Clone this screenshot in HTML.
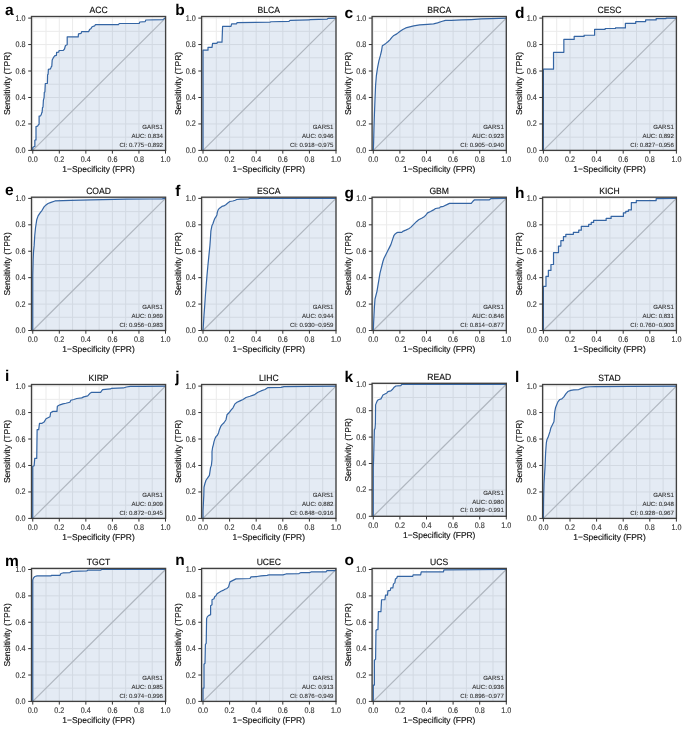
<!DOCTYPE html>
<html><head><meta charset="utf-8"><title>ROC curves</title>
<style>
html,body{margin:0;padding:0;background:#fff;}
svg{display:block;}
text{font-family:'Liberation Sans', Arial, Helvetica, sans-serif;text-rendering:geometricPrecision;}
.tl{font-size:7.2px;fill:#333333;stroke:#333333;stroke-width:0.12px;}
.ax{font-size:8.45px;fill:#111;stroke:#111;stroke-width:0.15px;}
.ay{font-size:8.5px;fill:#111;stroke:#111;stroke-width:0.15px;}
.ti{font-size:8.6px;fill:#111;stroke:#111;stroke-width:0.15px;}
.lt{font-size:15.5px;font-weight:bold;fill:#000;}
.an{font-size:6.1px;fill:#333333;stroke:#333333;stroke-width:0.1px;}
</style></head>
<body>
<svg width="685" height="729" viewBox="0 0 685 729">
<rect width="685" height="729" fill="#fff"/>
<g><rect x="31.5" y="16.5" width="134.1" height="133.9" fill="#fff"/><path d="M32.75 16.5V150.4M31.5 150.4H165.6M46.02 16.5V150.4M31.5 137.17H165.6M59.3 16.5V150.4M31.5 123.94H165.6M72.57 16.5V150.4M31.5 110.71H165.6M85.85 16.5V150.4M31.5 97.48H165.6M99.12 16.5V150.4M31.5 84.25H165.6M112.4 16.5V150.4M31.5 71.02H165.6M125.67 16.5V150.4M31.5 57.79H165.6M138.95 16.5V150.4M31.5 44.56H165.6M152.23 16.5V150.4M31.5 31.33H165.6M165.5 16.5V150.4M31.5 18.1H165.6" stroke="#ebebeb" stroke-width="1" fill="none"/><line x1="32.75" y1="150.4" x2="165.5" y2="18.1" stroke="#c2c2c2" stroke-width="1.2"/><polygon points="32.75,150.4 32.75,149.1 32.75,147.5 34.3,146.5 34.85,146.5 34.85,140.2 35.6,139.9 36,139.9 36,126.5 37.7,126.1 38.4,124.7 39.1,124.3 39.1,116.1 40.6,115.8 41.4,114.3 41.7,112.7 42.1,112.4 42.5,107.6 43,107.3 43.4,100.2 44.1,97.7 44.3,92.3 44.9,92 45.3,83.5 47.4,83.3 47.6,74.7 48.1,74.3 48.4,69.3 50.4,68.9 50.9,67.8 51.4,66.6 51.8,66.3 52.2,60.1 52.7,59 53.3,57.8 54.1,56.7 54.5,55.9 56.4,55.4 56.6,52.4 58.7,52.1 59.1,50.5 63.3,50.3 64.5,49 64.9,47.5 65.5,45.5 67.2,44.8 67.2,36.85 78.2,36.85 78.5,33.9 81.1,33.4 81.6,31.7 88.6,31.7 89.6,29.4 91.1,28.4 92.1,26.7 94.6,25.9 95.5,24.7 118.4,24.7 119.3,23.5 139.2,23.5 139.8,22 145.2,21.6 145.8,20 163,19.6 164.4,18.4 165.4,18.1 165.5,150.4 32.75,150.4" fill="#4070b0" fill-opacity="0.14"/><polyline points="32.75,150.4 32.75,149.1 32.75,147.5 34.3,146.5 34.85,146.5 34.85,140.2 35.6,139.9 36,139.9 36,126.5 37.7,126.1 38.4,124.7 39.1,124.3 39.1,116.1 40.6,115.8 41.4,114.3 41.7,112.7 42.1,112.4 42.5,107.6 43,107.3 43.4,100.2 44.1,97.7 44.3,92.3 44.9,92 45.3,83.5 47.4,83.3 47.6,74.7 48.1,74.3 48.4,69.3 50.4,68.9 50.9,67.8 51.4,66.6 51.8,66.3 52.2,60.1 52.7,59 53.3,57.8 54.1,56.7 54.5,55.9 56.4,55.4 56.6,52.4 58.7,52.1 59.1,50.5 63.3,50.3 64.5,49 64.9,47.5 65.5,45.5 67.2,44.8 67.2,36.85 78.2,36.85 78.5,33.9 81.1,33.4 81.6,31.7 88.6,31.7 89.6,29.4 91.1,28.4 92.1,26.7 94.6,25.9 95.5,24.7 118.4,24.7 119.3,23.5 139.2,23.5 139.8,22 145.2,21.6 145.8,20 163,19.6 164.4,18.4 165.4,18.1" fill="none" stroke="#3465a4" stroke-width="1.2" stroke-linejoin="round"/><rect x="31.5" y="16.5" width="134.1" height="133.9" fill="none" stroke="#404040" stroke-width="1.35"/><path d="M28.2 150.4H31.5M32.75 150.4V153.6M28.2 123.94H31.5M59.3 150.4V153.6M28.2 97.48H31.5M85.85 150.4V153.6M28.2 71.02H31.5M112.4 150.4V153.6M28.2 44.56H31.5M138.95 150.4V153.6M28.2 18.1H31.5M165.5 150.4V153.6" stroke="#333333" stroke-width="1"/><text transform="matrix(1 0 0 1.15 25.6 152.95)" text-anchor="end" class="tl">0.0</text><text transform="matrix(1 0 0 1.15 32.75 161.7)" text-anchor="middle" class="tl">0.0</text><text transform="matrix(1 0 0 1.15 25.6 126.49)" text-anchor="end" class="tl">0.2</text><text transform="matrix(1 0 0 1.15 59.3 161.7)" text-anchor="middle" class="tl">0.2</text><text transform="matrix(1 0 0 1.15 25.6 100.03)" text-anchor="end" class="tl">0.4</text><text transform="matrix(1 0 0 1.15 85.85 161.7)" text-anchor="middle" class="tl">0.4</text><text transform="matrix(1 0 0 1.15 25.6 73.57)" text-anchor="end" class="tl">0.6</text><text transform="matrix(1 0 0 1.15 112.4 161.7)" text-anchor="middle" class="tl">0.6</text><text transform="matrix(1 0 0 1.15 25.6 47.11)" text-anchor="end" class="tl">0.8</text><text transform="matrix(1 0 0 1.15 138.95 161.7)" text-anchor="middle" class="tl">0.8</text><text transform="matrix(1 0 0 1.15 25.6 20.65)" text-anchor="end" class="tl">1.0</text><text transform="matrix(1 0 0 1.15 165.5 161.7)" text-anchor="middle" class="tl">1.0</text><text x="98.55" y="172.1" text-anchor="middle" class="ax">1−Specificity (FPR)</text><text transform="translate(10.4,83.45) rotate(-90)" text-anchor="middle" class="ay">Sensitivity (TPR)</text><text transform="matrix(1 0 0 1.06 98.55 13)" text-anchor="middle" class="ti">ACC</text><text x="5" y="15.1" class="lt">a</text><text x="163" y="128.7" text-anchor="end" class="an">GARS1</text><text x="163" y="137.7" text-anchor="end" class="an">AUC: 0.834</text><text x="163" y="146.5" text-anchor="end" class="an">CI: 0.775−0.892</text></g>
<g><rect x="201.6" y="16.5" width="134.4" height="133.9" fill="#fff"/><path d="M203 16.5V150.4M201.6 150.4H336M216.3 16.5V150.4M201.6 137.17H336M229.6 16.5V150.4M201.6 123.94H336M242.9 16.5V150.4M201.6 110.71H336M256.2 16.5V150.4M201.6 97.48H336M269.5 16.5V150.4M201.6 84.25H336M282.8 16.5V150.4M201.6 71.02H336M296.1 16.5V150.4M201.6 57.79H336M309.4 16.5V150.4M201.6 44.56H336M322.7 16.5V150.4M201.6 31.33H336M336 16.5V150.4M201.6 18.1H336" stroke="#ebebeb" stroke-width="1" fill="none"/><line x1="203" y1="150.4" x2="336" y2="18.1" stroke="#c2c2c2" stroke-width="1.2"/><polygon points="203,150.4 203,50.14 208,50.14 208,47.36 212,47.36 212.6,43.39 217,43.39 217.4,42.2 222,42.2 222.6,26.32 231,26.32 231.6,23.94 236.6,23.94 237,22.55 270,22.15 271,21.75 289,21.36 290,20.36 309,19.97 310,19.57 327,19.17 328,18.38 336,18.1 336,150.4 203,150.4" fill="#4070b0" fill-opacity="0.14"/><polyline points="203,150.4 203,50.14 208,50.14 208,47.36 212,47.36 212.6,43.39 217,43.39 217.4,42.2 222,42.2 222.6,26.32 231,26.32 231.6,23.94 236.6,23.94 237,22.55 270,22.15 271,21.75 289,21.36 290,20.36 309,19.97 310,19.57 327,19.17 328,18.38 336,18.1" fill="none" stroke="#3465a4" stroke-width="1.2" stroke-linejoin="round"/><rect x="201.6" y="16.5" width="134.4" height="133.9" fill="none" stroke="#404040" stroke-width="1.35"/><path d="M198.3 150.4H201.6M203 150.4V153.6M198.3 123.94H201.6M229.6 150.4V153.6M198.3 97.48H201.6M256.2 150.4V153.6M198.3 71.02H201.6M282.8 150.4V153.6M198.3 44.56H201.6M309.4 150.4V153.6M198.3 18.1H201.6M336 150.4V153.6" stroke="#333333" stroke-width="1"/><text transform="matrix(1 0 0 1.15 195.7 152.95)" text-anchor="end" class="tl">0.0</text><text transform="matrix(1 0 0 1.15 203 161.7)" text-anchor="middle" class="tl">0.0</text><text transform="matrix(1 0 0 1.15 195.7 126.49)" text-anchor="end" class="tl">0.2</text><text transform="matrix(1 0 0 1.15 229.6 161.7)" text-anchor="middle" class="tl">0.2</text><text transform="matrix(1 0 0 1.15 195.7 100.03)" text-anchor="end" class="tl">0.4</text><text transform="matrix(1 0 0 1.15 256.2 161.7)" text-anchor="middle" class="tl">0.4</text><text transform="matrix(1 0 0 1.15 195.7 73.57)" text-anchor="end" class="tl">0.6</text><text transform="matrix(1 0 0 1.15 282.8 161.7)" text-anchor="middle" class="tl">0.6</text><text transform="matrix(1 0 0 1.15 195.7 47.11)" text-anchor="end" class="tl">0.8</text><text transform="matrix(1 0 0 1.15 309.4 161.7)" text-anchor="middle" class="tl">0.8</text><text transform="matrix(1 0 0 1.15 195.7 20.65)" text-anchor="end" class="tl">1.0</text><text transform="matrix(1 0 0 1.15 336 161.7)" text-anchor="middle" class="tl">1.0</text><text x="268.8" y="172.1" text-anchor="middle" class="ax">1−Specificity (FPR)</text><text transform="translate(180.5,83.45) rotate(-90)" text-anchor="middle" class="ay">Sensitivity (TPR)</text><text transform="matrix(1 0 0 1.06 268.8 13)" text-anchor="middle" class="ti">BLCA</text><text x="175.35" y="15.2" class="lt">b</text><text x="333.5" y="128.7" text-anchor="end" class="an">GARS1</text><text x="333.5" y="137.7" text-anchor="end" class="an">AUC: 0.946</text><text x="333.5" y="146.5" text-anchor="end" class="an">CI: 0.918−0.975</text></g>
<g><rect x="372.1" y="16.5" width="134.2" height="133.9" fill="#fff"/><path d="M373.3 16.5V150.4M372.1 150.4H506.3M386.6 16.5V150.4M372.1 137.17H506.3M399.9 16.5V150.4M372.1 123.94H506.3M413.2 16.5V150.4M372.1 110.71H506.3M426.5 16.5V150.4M372.1 97.48H506.3M439.8 16.5V150.4M372.1 84.25H506.3M453.1 16.5V150.4M372.1 71.02H506.3M466.4 16.5V150.4M372.1 57.79H506.3M479.7 16.5V150.4M372.1 44.56H506.3M493 16.5V150.4M372.1 31.33H506.3M506.3 16.5V150.4M372.1 18.1H506.3" stroke="#ebebeb" stroke-width="1" fill="none"/><line x1="373.3" y1="150.4" x2="506.3" y2="18.1" stroke="#c2c2c2" stroke-width="1.2"/><polygon points="373.3,150.4 373.6,143.05 373.99,127.17 374.39,115.26 374.99,99.38 375.58,85.48 376.38,75.55 377.57,67.61 378.96,60.66 380.35,55.7 381.54,50.74 382.33,45.77 383.92,44.78 385.91,43.39 387.89,41.8 389.88,39.82 391.86,37.44 393.85,35.45 396.82,33.86 399.8,31.48 402.78,29.5 405.76,27.91 409.73,26.91 413.7,25.92 419.65,24.93 427.59,24.33 433.55,23.94 437.52,22.94 441.49,21.55 445.46,20.36 451.41,20.36 461.34,19.97 471.26,19.57 481.19,18.97 491.11,18.58 506.3,18.1 506.3,150.4 373.3,150.4" fill="#4070b0" fill-opacity="0.14"/><polyline points="373.3,150.4 373.6,143.05 373.99,127.17 374.39,115.26 374.99,99.38 375.58,85.48 376.38,75.55 377.57,67.61 378.96,60.66 380.35,55.7 381.54,50.74 382.33,45.77 383.92,44.78 385.91,43.39 387.89,41.8 389.88,39.82 391.86,37.44 393.85,35.45 396.82,33.86 399.8,31.48 402.78,29.5 405.76,27.91 409.73,26.91 413.7,25.92 419.65,24.93 427.59,24.33 433.55,23.94 437.52,22.94 441.49,21.55 445.46,20.36 451.41,20.36 461.34,19.97 471.26,19.57 481.19,18.97 491.11,18.58 506.3,18.1" fill="none" stroke="#3465a4" stroke-width="1.2" stroke-linejoin="round"/><rect x="372.1" y="16.5" width="134.2" height="133.9" fill="none" stroke="#404040" stroke-width="1.35"/><path d="M368.8 150.4H372.1M373.3 150.4V153.6M368.8 123.94H372.1M399.9 150.4V153.6M368.8 97.48H372.1M426.5 150.4V153.6M368.8 71.02H372.1M453.1 150.4V153.6M368.8 44.56H372.1M479.7 150.4V153.6M368.8 18.1H372.1M506.3 150.4V153.6" stroke="#333333" stroke-width="1"/><text transform="matrix(1 0 0 1.15 366.2 152.95)" text-anchor="end" class="tl">0.0</text><text transform="matrix(1 0 0 1.15 373.3 161.7)" text-anchor="middle" class="tl">0.0</text><text transform="matrix(1 0 0 1.15 366.2 126.49)" text-anchor="end" class="tl">0.2</text><text transform="matrix(1 0 0 1.15 399.9 161.7)" text-anchor="middle" class="tl">0.2</text><text transform="matrix(1 0 0 1.15 366.2 100.03)" text-anchor="end" class="tl">0.4</text><text transform="matrix(1 0 0 1.15 426.5 161.7)" text-anchor="middle" class="tl">0.4</text><text transform="matrix(1 0 0 1.15 366.2 73.57)" text-anchor="end" class="tl">0.6</text><text transform="matrix(1 0 0 1.15 453.1 161.7)" text-anchor="middle" class="tl">0.6</text><text transform="matrix(1 0 0 1.15 366.2 47.11)" text-anchor="end" class="tl">0.8</text><text transform="matrix(1 0 0 1.15 479.7 161.7)" text-anchor="middle" class="tl">0.8</text><text transform="matrix(1 0 0 1.15 366.2 20.65)" text-anchor="end" class="tl">1.0</text><text transform="matrix(1 0 0 1.15 506.3 161.7)" text-anchor="middle" class="tl">1.0</text><text x="439.2" y="172.1" text-anchor="middle" class="ax">1−Specificity (FPR)</text><text transform="translate(351,83.45) rotate(-90)" text-anchor="middle" class="ay">Sensitivity (TPR)</text><text transform="matrix(1 0 0 1.06 439.2 13)" text-anchor="middle" class="ti">BRCA</text><text x="344.6" y="17.7" class="lt">c</text><text x="503.8" y="128.7" text-anchor="end" class="an">GARS1</text><text x="503.8" y="137.7" text-anchor="end" class="an">AUC: 0.923</text><text x="503.8" y="146.5" text-anchor="end" class="an">CI: 0.905−0.940</text></g>
<g><rect x="542.6" y="16.5" width="133.8" height="133.9" fill="#fff"/><path d="M543.4 16.5V150.4M542.6 150.4H676.4M556.7 16.5V150.4M542.6 137.17H676.4M570 16.5V150.4M542.6 123.94H676.4M583.3 16.5V150.4M542.6 110.71H676.4M596.6 16.5V150.4M542.6 97.48H676.4M609.9 16.5V150.4M542.6 84.25H676.4M623.2 16.5V150.4M542.6 71.02H676.4M636.5 16.5V150.4M542.6 57.79H676.4M649.8 16.5V150.4M542.6 44.56H676.4M663.1 16.5V150.4M542.6 31.33H676.4M676.4 16.5V150.4M542.6 18.1H676.4" stroke="#ebebeb" stroke-width="1" fill="none"/><line x1="543.4" y1="150.4" x2="676.4" y2="18.1" stroke="#c2c2c2" stroke-width="1.2"/><polygon points="543.4,150.4 543.4,69.2 553.52,69.2 553.52,52.33 563.85,52.33 563.85,39.42 574.17,39.42 574.17,36.44 584.09,36.44 584.09,35.25 594.61,35.25 594.61,29.3 605.14,29.3 605.14,28.5 615.46,28.5 615.46,27.91 625.38,27.91 625.38,23.34 635.71,23.34 635.71,21.55 645.63,21.55 645.63,19.97 656.15,19.97 656.15,18.58 666.08,18.58 666.08,18.18 676.4,18.1 676.4,150.4 543.4,150.4" fill="#4070b0" fill-opacity="0.14"/><polyline points="543.4,150.4 543.4,69.2 553.52,69.2 553.52,52.33 563.85,52.33 563.85,39.42 574.17,39.42 574.17,36.44 584.09,36.44 584.09,35.25 594.61,35.25 594.61,29.3 605.14,29.3 605.14,28.5 615.46,28.5 615.46,27.91 625.38,27.91 625.38,23.34 635.71,23.34 635.71,21.55 645.63,21.55 645.63,19.97 656.15,19.97 656.15,18.58 666.08,18.58 666.08,18.18 676.4,18.1" fill="none" stroke="#3465a4" stroke-width="1.2" stroke-linejoin="round"/><rect x="542.6" y="16.5" width="133.8" height="133.9" fill="none" stroke="#404040" stroke-width="1.35"/><path d="M539.3 150.4H542.6M543.4 150.4V153.6M539.3 123.94H542.6M570 150.4V153.6M539.3 97.48H542.6M596.6 150.4V153.6M539.3 71.02H542.6M623.2 150.4V153.6M539.3 44.56H542.6M649.8 150.4V153.6M539.3 18.1H542.6M676.4 150.4V153.6" stroke="#333333" stroke-width="1"/><text transform="matrix(1 0 0 1.15 536.7 152.95)" text-anchor="end" class="tl">0.0</text><text transform="matrix(1 0 0 1.15 543.4 161.7)" text-anchor="middle" class="tl">0.0</text><text transform="matrix(1 0 0 1.15 536.7 126.49)" text-anchor="end" class="tl">0.2</text><text transform="matrix(1 0 0 1.15 570 161.7)" text-anchor="middle" class="tl">0.2</text><text transform="matrix(1 0 0 1.15 536.7 100.03)" text-anchor="end" class="tl">0.4</text><text transform="matrix(1 0 0 1.15 596.6 161.7)" text-anchor="middle" class="tl">0.4</text><text transform="matrix(1 0 0 1.15 536.7 73.57)" text-anchor="end" class="tl">0.6</text><text transform="matrix(1 0 0 1.15 623.2 161.7)" text-anchor="middle" class="tl">0.6</text><text transform="matrix(1 0 0 1.15 536.7 47.11)" text-anchor="end" class="tl">0.8</text><text transform="matrix(1 0 0 1.15 649.8 161.7)" text-anchor="middle" class="tl">0.8</text><text transform="matrix(1 0 0 1.15 536.7 20.65)" text-anchor="end" class="tl">1.0</text><text transform="matrix(1 0 0 1.15 676.4 161.7)" text-anchor="middle" class="tl">1.0</text><text x="609.5" y="172.1" text-anchor="middle" class="ax">1−Specificity (FPR)</text><text transform="translate(521.5,83.45) rotate(-90)" text-anchor="middle" class="ay">Sensitivity (TPR)</text><text transform="matrix(1 0 0 1.06 609.5 13)" text-anchor="middle" class="ti">CESC</text><text x="515" y="17.7" class="lt">d</text><text x="673.9" y="128.7" text-anchor="end" class="an">GARS1</text><text x="673.9" y="137.7" text-anchor="end" class="an">AUC: 0.892</text><text x="673.9" y="146.5" text-anchor="end" class="an">CI: 0.827−0.956</text></g>
<g><rect x="31.5" y="197.2" width="134.1" height="133.3" fill="#fff"/><path d="M32.75 197.2V330.5M31.5 330.5H165.6M46.02 197.2V330.5M31.5 317.29H165.6M59.3 197.2V330.5M31.5 304.08H165.6M72.57 197.2V330.5M31.5 290.87H165.6M85.85 197.2V330.5M31.5 277.66H165.6M99.12 197.2V330.5M31.5 264.45H165.6M112.4 197.2V330.5M31.5 251.24H165.6M125.67 197.2V330.5M31.5 238.03H165.6M138.95 197.2V330.5M31.5 224.82H165.6M152.23 197.2V330.5M31.5 211.61H165.6M165.5 197.2V330.5M31.5 198.4H165.6" stroke="#ebebeb" stroke-width="1" fill="none"/><line x1="32.75" y1="330.5" x2="165.5" y2="198.4" stroke="#c2c2c2" stroke-width="1.2"/><polygon points="32.75,330.5 32.75,275.41 33.15,259.53 33.54,251.59 34.14,245.63 34.73,235.7 35.53,227.76 36.72,219.82 38.11,215.85 40.09,212.87 42.08,210.29 44.06,206.92 46.04,204.93 48.03,203.54 51.01,202.35 54.97,200.96 70.85,200.37 90.69,199.97 126.41,199.17 150.22,198.98 162.13,198.78 165.5,198.4 165.5,330.5 32.75,330.5" fill="#4070b0" fill-opacity="0.14"/><polyline points="32.75,330.5 32.75,275.41 33.15,259.53 33.54,251.59 34.14,245.63 34.73,235.7 35.53,227.76 36.72,219.82 38.11,215.85 40.09,212.87 42.08,210.29 44.06,206.92 46.04,204.93 48.03,203.54 51.01,202.35 54.97,200.96 70.85,200.37 90.69,199.97 126.41,199.17 150.22,198.98 162.13,198.78 165.5,198.4" fill="none" stroke="#3465a4" stroke-width="1.2" stroke-linejoin="round"/><rect x="31.5" y="197.2" width="134.1" height="133.3" fill="none" stroke="#404040" stroke-width="1.35"/><path d="M28.2 330.5H31.5M32.75 330.5V333.7M28.2 304.08H31.5M59.3 330.5V333.7M28.2 277.66H31.5M85.85 330.5V333.7M28.2 251.24H31.5M112.4 330.5V333.7M28.2 224.82H31.5M138.95 330.5V333.7M28.2 198.4H31.5M165.5 330.5V333.7" stroke="#333333" stroke-width="1"/><text transform="matrix(1 0 0 1.15 25.6 333.05)" text-anchor="end" class="tl">0.0</text><text transform="matrix(1 0 0 1.15 32.75 341.8)" text-anchor="middle" class="tl">0.0</text><text transform="matrix(1 0 0 1.15 25.6 306.63)" text-anchor="end" class="tl">0.2</text><text transform="matrix(1 0 0 1.15 59.3 341.8)" text-anchor="middle" class="tl">0.2</text><text transform="matrix(1 0 0 1.15 25.6 280.21)" text-anchor="end" class="tl">0.4</text><text transform="matrix(1 0 0 1.15 85.85 341.8)" text-anchor="middle" class="tl">0.4</text><text transform="matrix(1 0 0 1.15 25.6 253.79)" text-anchor="end" class="tl">0.6</text><text transform="matrix(1 0 0 1.15 112.4 341.8)" text-anchor="middle" class="tl">0.6</text><text transform="matrix(1 0 0 1.15 25.6 227.37)" text-anchor="end" class="tl">0.8</text><text transform="matrix(1 0 0 1.15 138.95 341.8)" text-anchor="middle" class="tl">0.8</text><text transform="matrix(1 0 0 1.15 25.6 200.95)" text-anchor="end" class="tl">1.0</text><text transform="matrix(1 0 0 1.15 165.5 341.8)" text-anchor="middle" class="tl">1.0</text><text x="98.55" y="352.2" text-anchor="middle" class="ax">1−Specificity (FPR)</text><text transform="translate(10.4,263.85) rotate(-90)" text-anchor="middle" class="ay">Sensitivity (TPR)</text><text transform="matrix(1 0 0 1.06 98.55 193.7)" text-anchor="middle" class="ti">COAD</text><text x="5" y="195.1" class="lt">e</text><text x="163" y="308.8" text-anchor="end" class="an">GARS1</text><text x="163" y="317.8" text-anchor="end" class="an">AUC: 0.969</text><text x="163" y="326.6" text-anchor="end" class="an">CI: 0.956−0.983</text></g>
<g><rect x="201.6" y="197.2" width="134.4" height="133.3" fill="#fff"/><path d="M203 197.2V330.5M201.6 330.5H336M216.3 197.2V330.5M201.6 317.29H336M229.6 197.2V330.5M201.6 304.08H336M242.9 197.2V330.5M201.6 290.87H336M256.2 197.2V330.5M201.6 277.66H336M269.5 197.2V330.5M201.6 264.45H336M282.8 197.2V330.5M201.6 251.24H336M296.1 197.2V330.5M201.6 238.03H336M309.4 197.2V330.5M201.6 224.82H336M322.7 197.2V330.5M201.6 211.61H336M336 197.2V330.5M201.6 198.4H336" stroke="#ebebeb" stroke-width="1" fill="none"/><line x1="203" y1="330.5" x2="336" y2="198.4" stroke="#c2c2c2" stroke-width="1.2"/><polygon points="203,330.5 203.4,325 204,315.1 204.6,307.2 205.4,295.3 206.2,285.3 207,275.4 207.9,265.5 208.9,255.6 209.9,245.7 210.4,238.7 210.9,230.8 211.9,225.8 212.9,223.8 213.9,220.8 214.9,218.3 215.9,216.9 216.9,214.9 217.4,211.9 218.4,209.4 219.9,207.9 221.9,206.4 223.8,205.9 225.8,204.7 227.8,203 229.8,201.5 232.8,201 235.3,200.2 236.7,199.5 240.7,199.2 248.7,198.8 249.7,198.4 336,198.4 336,330.5 203,330.5" fill="#4070b0" fill-opacity="0.14"/><polyline points="203,330.5 203.4,325 204,315.1 204.6,307.2 205.4,295.3 206.2,285.3 207,275.4 207.9,265.5 208.9,255.6 209.9,245.7 210.4,238.7 210.9,230.8 211.9,225.8 212.9,223.8 213.9,220.8 214.9,218.3 215.9,216.9 216.9,214.9 217.4,211.9 218.4,209.4 219.9,207.9 221.9,206.4 223.8,205.9 225.8,204.7 227.8,203 229.8,201.5 232.8,201 235.3,200.2 236.7,199.5 240.7,199.2 248.7,198.8 249.7,198.4 336,198.4" fill="none" stroke="#3465a4" stroke-width="1.2" stroke-linejoin="round"/><rect x="201.6" y="197.2" width="134.4" height="133.3" fill="none" stroke="#404040" stroke-width="1.35"/><path d="M198.3 330.5H201.6M203 330.5V333.7M198.3 304.08H201.6M229.6 330.5V333.7M198.3 277.66H201.6M256.2 330.5V333.7M198.3 251.24H201.6M282.8 330.5V333.7M198.3 224.82H201.6M309.4 330.5V333.7M198.3 198.4H201.6M336 330.5V333.7" stroke="#333333" stroke-width="1"/><text transform="matrix(1 0 0 1.15 195.7 333.05)" text-anchor="end" class="tl">0.0</text><text transform="matrix(1 0 0 1.15 203 341.8)" text-anchor="middle" class="tl">0.0</text><text transform="matrix(1 0 0 1.15 195.7 306.63)" text-anchor="end" class="tl">0.2</text><text transform="matrix(1 0 0 1.15 229.6 341.8)" text-anchor="middle" class="tl">0.2</text><text transform="matrix(1 0 0 1.15 195.7 280.21)" text-anchor="end" class="tl">0.4</text><text transform="matrix(1 0 0 1.15 256.2 341.8)" text-anchor="middle" class="tl">0.4</text><text transform="matrix(1 0 0 1.15 195.7 253.79)" text-anchor="end" class="tl">0.6</text><text transform="matrix(1 0 0 1.15 282.8 341.8)" text-anchor="middle" class="tl">0.6</text><text transform="matrix(1 0 0 1.15 195.7 227.37)" text-anchor="end" class="tl">0.8</text><text transform="matrix(1 0 0 1.15 309.4 341.8)" text-anchor="middle" class="tl">0.8</text><text transform="matrix(1 0 0 1.15 195.7 200.95)" text-anchor="end" class="tl">1.0</text><text transform="matrix(1 0 0 1.15 336 341.8)" text-anchor="middle" class="tl">1.0</text><text x="268.8" y="352.2" text-anchor="middle" class="ax">1−Specificity (FPR)</text><text transform="translate(180.5,263.85) rotate(-90)" text-anchor="middle" class="ay">Sensitivity (TPR)</text><text transform="matrix(1 0 0 1.06 268.8 193.7)" text-anchor="middle" class="ti">ESCA</text><text x="175.35" y="196.3" class="lt">f</text><text x="333.5" y="308.8" text-anchor="end" class="an">GARS1</text><text x="333.5" y="317.8" text-anchor="end" class="an">AUC: 0.944</text><text x="333.5" y="326.6" text-anchor="end" class="an">CI: 0.930−0.959</text></g>
<g><rect x="372.1" y="197.2" width="134.2" height="133.3" fill="#fff"/><path d="M373.3 197.2V330.5M372.1 330.5H506.3M386.6 197.2V330.5M372.1 317.29H506.3M399.9 197.2V330.5M372.1 304.08H506.3M413.2 197.2V330.5M372.1 290.87H506.3M426.5 197.2V330.5M372.1 277.66H506.3M439.8 197.2V330.5M372.1 264.45H506.3M453.1 197.2V330.5M372.1 251.24H506.3M466.4 197.2V330.5M372.1 238.03H506.3M479.7 197.2V330.5M372.1 224.82H506.3M493 197.2V330.5M372.1 211.61H506.3M506.3 197.2V330.5M372.1 198.4H506.3" stroke="#ebebeb" stroke-width="1" fill="none"/><line x1="373.3" y1="330.5" x2="506.3" y2="198.4" stroke="#c2c2c2" stroke-width="1.2"/><polygon points="373.3,330.5 373.6,323.06 373.99,315.11 374.39,307.17 374.99,299.23 375.98,295.26 376.97,291.29 377.96,285.34 378.96,279.38 379.95,273.42 380.94,269.45 381.94,265.48 382.93,261.51 383.92,258.53 384.91,256.55 385.91,254.56 386.9,252.58 387.89,250.59 388.88,248.61 389.88,246.62 390.87,244.64 391.86,241.66 392.85,238.68 393.85,235.7 394.84,234.31 396.23,233.12 397.82,232.33 401.79,232.33 402.78,231.34 405.76,230.14 408.73,228.75 410.72,227.37 412.7,225.38 414.69,223.39 416.67,221.41 418.66,219.82 421.64,218.23 424.61,216.45 426,214.86 427.59,212.87 430.57,211.48 433.55,209.89 435.53,208.51 439.5,207.91 440.49,206.92 443.47,206.32 447.44,204.34 449.43,203.34 471.26,203.34 473.25,200.96 474.24,199.97 489.13,199.97 491.11,198.58 506.3,198.4 506.3,330.5 373.3,330.5" fill="#4070b0" fill-opacity="0.14"/><polyline points="373.3,330.5 373.6,323.06 373.99,315.11 374.39,307.17 374.99,299.23 375.98,295.26 376.97,291.29 377.96,285.34 378.96,279.38 379.95,273.42 380.94,269.45 381.94,265.48 382.93,261.51 383.92,258.53 384.91,256.55 385.91,254.56 386.9,252.58 387.89,250.59 388.88,248.61 389.88,246.62 390.87,244.64 391.86,241.66 392.85,238.68 393.85,235.7 394.84,234.31 396.23,233.12 397.82,232.33 401.79,232.33 402.78,231.34 405.76,230.14 408.73,228.75 410.72,227.37 412.7,225.38 414.69,223.39 416.67,221.41 418.66,219.82 421.64,218.23 424.61,216.45 426,214.86 427.59,212.87 430.57,211.48 433.55,209.89 435.53,208.51 439.5,207.91 440.49,206.92 443.47,206.32 447.44,204.34 449.43,203.34 471.26,203.34 473.25,200.96 474.24,199.97 489.13,199.97 491.11,198.58 506.3,198.4" fill="none" stroke="#3465a4" stroke-width="1.2" stroke-linejoin="round"/><rect x="372.1" y="197.2" width="134.2" height="133.3" fill="none" stroke="#404040" stroke-width="1.35"/><path d="M368.8 330.5H372.1M373.3 330.5V333.7M368.8 304.08H372.1M399.9 330.5V333.7M368.8 277.66H372.1M426.5 330.5V333.7M368.8 251.24H372.1M453.1 330.5V333.7M368.8 224.82H372.1M479.7 330.5V333.7M368.8 198.4H372.1M506.3 330.5V333.7" stroke="#333333" stroke-width="1"/><text transform="matrix(1 0 0 1.15 366.2 333.05)" text-anchor="end" class="tl">0.0</text><text transform="matrix(1 0 0 1.15 373.3 341.8)" text-anchor="middle" class="tl">0.0</text><text transform="matrix(1 0 0 1.15 366.2 306.63)" text-anchor="end" class="tl">0.2</text><text transform="matrix(1 0 0 1.15 399.9 341.8)" text-anchor="middle" class="tl">0.2</text><text transform="matrix(1 0 0 1.15 366.2 280.21)" text-anchor="end" class="tl">0.4</text><text transform="matrix(1 0 0 1.15 426.5 341.8)" text-anchor="middle" class="tl">0.4</text><text transform="matrix(1 0 0 1.15 366.2 253.79)" text-anchor="end" class="tl">0.6</text><text transform="matrix(1 0 0 1.15 453.1 341.8)" text-anchor="middle" class="tl">0.6</text><text transform="matrix(1 0 0 1.15 366.2 227.37)" text-anchor="end" class="tl">0.8</text><text transform="matrix(1 0 0 1.15 479.7 341.8)" text-anchor="middle" class="tl">0.8</text><text transform="matrix(1 0 0 1.15 366.2 200.95)" text-anchor="end" class="tl">1.0</text><text transform="matrix(1 0 0 1.15 506.3 341.8)" text-anchor="middle" class="tl">1.0</text><text x="439.2" y="352.2" text-anchor="middle" class="ax">1−Specificity (FPR)</text><text transform="translate(351,263.85) rotate(-90)" text-anchor="middle" class="ay">Sensitivity (TPR)</text><text transform="matrix(1 0 0 1.06 439.2 193.7)" text-anchor="middle" class="ti">GBM</text><text x="344.6" y="197.7" class="lt">g</text><text x="503.8" y="308.8" text-anchor="end" class="an">GARS1</text><text x="503.8" y="317.8" text-anchor="end" class="an">AUC: 0.846</text><text x="503.8" y="326.6" text-anchor="end" class="an">CI: 0.814−0.877</text></g>
<g><rect x="542.6" y="197.2" width="133.8" height="133.3" fill="#fff"/><path d="M543.4 197.2V330.5M542.6 330.5H676.4M556.7 197.2V330.5M542.6 317.29H676.4M570 197.2V330.5M542.6 304.08H676.4M583.3 197.2V330.5M542.6 290.87H676.4M596.6 197.2V330.5M542.6 277.66H676.4M609.9 197.2V330.5M542.6 264.45H676.4M623.2 197.2V330.5M542.6 251.24H676.4M636.5 197.2V330.5M542.6 238.03H676.4M649.8 197.2V330.5M542.6 224.82H676.4M663.1 197.2V330.5M542.6 211.61H676.4M676.4 197.2V330.5M542.6 198.4H676.4" stroke="#ebebeb" stroke-width="1" fill="none"/><line x1="543.4" y1="330.5" x2="676.4" y2="198.4" stroke="#c2c2c2" stroke-width="1.2"/><polygon points="543.4,330.5 543.4,286.33 545.98,286.33 545.98,276.4 548.36,276.4 548.36,270.45 550.94,270.45 550.94,264.49 553.52,264.49 553.52,252.58 558.49,252.58 558.49,246.03 560.87,246.03 560.87,240.67 563.45,240.67 563.45,236.7 565.83,236.7 565.83,234.31 573.37,234.31 573.37,232.33 578.73,232.33 578.73,230.14 581.31,230.14 581.31,226.37 588.66,226.37 588.66,224.39 591.24,224.39 591.24,222.4 593.62,222.4 593.62,220.42 606.13,220.42 606.13,218.43 611.09,218.43 611.09,216.45 623.4,216.45 623.4,212.87 625.78,212.87 625.78,211.28 628.36,211.28 628.36,209.89 631.34,209.89 631.34,202.55 636.3,202.55 636.3,200.56 656.15,200.56 656.15,198.58 676.4,198.4 676.4,330.5 543.4,330.5" fill="#4070b0" fill-opacity="0.14"/><polyline points="543.4,330.5 543.4,286.33 545.98,286.33 545.98,276.4 548.36,276.4 548.36,270.45 550.94,270.45 550.94,264.49 553.52,264.49 553.52,252.58 558.49,252.58 558.49,246.03 560.87,246.03 560.87,240.67 563.45,240.67 563.45,236.7 565.83,236.7 565.83,234.31 573.37,234.31 573.37,232.33 578.73,232.33 578.73,230.14 581.31,230.14 581.31,226.37 588.66,226.37 588.66,224.39 591.24,224.39 591.24,222.4 593.62,222.4 593.62,220.42 606.13,220.42 606.13,218.43 611.09,218.43 611.09,216.45 623.4,216.45 623.4,212.87 625.78,212.87 625.78,211.28 628.36,211.28 628.36,209.89 631.34,209.89 631.34,202.55 636.3,202.55 636.3,200.56 656.15,200.56 656.15,198.58 676.4,198.4" fill="none" stroke="#3465a4" stroke-width="1.2" stroke-linejoin="round"/><rect x="542.6" y="197.2" width="133.8" height="133.3" fill="none" stroke="#404040" stroke-width="1.35"/><path d="M539.3 330.5H542.6M543.4 330.5V333.7M539.3 304.08H542.6M570 330.5V333.7M539.3 277.66H542.6M596.6 330.5V333.7M539.3 251.24H542.6M623.2 330.5V333.7M539.3 224.82H542.6M649.8 330.5V333.7M539.3 198.4H542.6M676.4 330.5V333.7" stroke="#333333" stroke-width="1"/><text transform="matrix(1 0 0 1.15 536.7 333.05)" text-anchor="end" class="tl">0.0</text><text transform="matrix(1 0 0 1.15 543.4 341.8)" text-anchor="middle" class="tl">0.0</text><text transform="matrix(1 0 0 1.15 536.7 306.63)" text-anchor="end" class="tl">0.2</text><text transform="matrix(1 0 0 1.15 570 341.8)" text-anchor="middle" class="tl">0.2</text><text transform="matrix(1 0 0 1.15 536.7 280.21)" text-anchor="end" class="tl">0.4</text><text transform="matrix(1 0 0 1.15 596.6 341.8)" text-anchor="middle" class="tl">0.4</text><text transform="matrix(1 0 0 1.15 536.7 253.79)" text-anchor="end" class="tl">0.6</text><text transform="matrix(1 0 0 1.15 623.2 341.8)" text-anchor="middle" class="tl">0.6</text><text transform="matrix(1 0 0 1.15 536.7 227.37)" text-anchor="end" class="tl">0.8</text><text transform="matrix(1 0 0 1.15 649.8 341.8)" text-anchor="middle" class="tl">0.8</text><text transform="matrix(1 0 0 1.15 536.7 200.95)" text-anchor="end" class="tl">1.0</text><text transform="matrix(1 0 0 1.15 676.4 341.8)" text-anchor="middle" class="tl">1.0</text><text x="609.5" y="352.2" text-anchor="middle" class="ax">1−Specificity (FPR)</text><text transform="translate(521.5,263.85) rotate(-90)" text-anchor="middle" class="ay">Sensitivity (TPR)</text><text transform="matrix(1 0 0 1.06 609.5 193.7)" text-anchor="middle" class="ti">KICH</text><text x="515" y="197.6" class="lt">h</text><text x="673.9" y="308.8" text-anchor="end" class="an">GARS1</text><text x="673.9" y="317.8" text-anchor="end" class="an">AUC: 0.831</text><text x="673.9" y="326.6" text-anchor="end" class="an">CI: 0.760−0.903</text></g>
<g><rect x="31.5" y="384.5" width="134.1" height="133.9" fill="#fff"/><path d="M32.75 384.5V518.4M31.5 518.4H165.6M46.02 384.5V518.4M31.5 505.17H165.6M59.3 384.5V518.4M31.5 491.94H165.6M72.57 384.5V518.4M31.5 478.71H165.6M85.85 384.5V518.4M31.5 465.48H165.6M99.12 384.5V518.4M31.5 452.25H165.6M112.4 384.5V518.4M31.5 439.02H165.6M125.67 384.5V518.4M31.5 425.79H165.6M138.95 384.5V518.4M31.5 412.56H165.6M152.23 384.5V518.4M31.5 399.33H165.6M165.5 384.5V518.4M31.5 386.1H165.6" stroke="#ebebeb" stroke-width="1" fill="none"/><line x1="32.75" y1="518.4" x2="165.5" y2="386.1" stroke="#c2c2c2" stroke-width="1.2"/><polygon points="32.75,518.4 32.75,466.39 34.14,465.79 34.73,458.44 36.72,458.44 37.12,429.66 38.7,429.66 39.5,423.3 42.08,423.3 44.06,422.11 46.04,418.74 48.03,417.75 50.01,416.75 50.61,412.78 52.99,411.39 56.96,411.39 57.36,406.23 59.93,404.84 62.91,403.85 65.89,403.25 69.86,402.26 70.85,400.27 73.83,399.48 76.8,398.49 81.76,397.89 83.75,396.9 87.72,395.91 89.7,393.53 91.68,392.33 100.61,392.33 101.61,390.94 102.6,389.55 110.53,388.96 111.53,388.36 123.43,387.97 126.41,386.97 130.38,386.38 142.28,386.38 165.5,386.1 165.5,518.4 32.75,518.4" fill="#4070b0" fill-opacity="0.14"/><polyline points="32.75,518.4 32.75,466.39 34.14,465.79 34.73,458.44 36.72,458.44 37.12,429.66 38.7,429.66 39.5,423.3 42.08,423.3 44.06,422.11 46.04,418.74 48.03,417.75 50.01,416.75 50.61,412.78 52.99,411.39 56.96,411.39 57.36,406.23 59.93,404.84 62.91,403.85 65.89,403.25 69.86,402.26 70.85,400.27 73.83,399.48 76.8,398.49 81.76,397.89 83.75,396.9 87.72,395.91 89.7,393.53 91.68,392.33 100.61,392.33 101.61,390.94 102.6,389.55 110.53,388.96 111.53,388.36 123.43,387.97 126.41,386.97 130.38,386.38 142.28,386.38 165.5,386.1" fill="none" stroke="#3465a4" stroke-width="1.2" stroke-linejoin="round"/><rect x="31.5" y="384.5" width="134.1" height="133.9" fill="none" stroke="#404040" stroke-width="1.35"/><path d="M28.2 518.4H31.5M32.75 518.4V521.6M28.2 491.94H31.5M59.3 518.4V521.6M28.2 465.48H31.5M85.85 518.4V521.6M28.2 439.02H31.5M112.4 518.4V521.6M28.2 412.56H31.5M138.95 518.4V521.6M28.2 386.1H31.5M165.5 518.4V521.6" stroke="#333333" stroke-width="1"/><text transform="matrix(1 0 0 1.15 25.6 520.95)" text-anchor="end" class="tl">0.0</text><text transform="matrix(1 0 0 1.15 32.75 529.7)" text-anchor="middle" class="tl">0.0</text><text transform="matrix(1 0 0 1.15 25.6 494.49)" text-anchor="end" class="tl">0.2</text><text transform="matrix(1 0 0 1.15 59.3 529.7)" text-anchor="middle" class="tl">0.2</text><text transform="matrix(1 0 0 1.15 25.6 468.03)" text-anchor="end" class="tl">0.4</text><text transform="matrix(1 0 0 1.15 85.85 529.7)" text-anchor="middle" class="tl">0.4</text><text transform="matrix(1 0 0 1.15 25.6 441.57)" text-anchor="end" class="tl">0.6</text><text transform="matrix(1 0 0 1.15 112.4 529.7)" text-anchor="middle" class="tl">0.6</text><text transform="matrix(1 0 0 1.15 25.6 415.11)" text-anchor="end" class="tl">0.8</text><text transform="matrix(1 0 0 1.15 138.95 529.7)" text-anchor="middle" class="tl">0.8</text><text transform="matrix(1 0 0 1.15 25.6 388.65)" text-anchor="end" class="tl">1.0</text><text transform="matrix(1 0 0 1.15 165.5 529.7)" text-anchor="middle" class="tl">1.0</text><text x="98.55" y="540.1" text-anchor="middle" class="ax">1−Specificity (FPR)</text><text transform="translate(10.4,451.45) rotate(-90)" text-anchor="middle" class="ay">Sensitivity (TPR)</text><text transform="matrix(1 0 0 1.06 98.55 381)" text-anchor="middle" class="ti">KIRP</text><text x="5" y="381.3" class="lt">i</text><text x="163" y="496.7" text-anchor="end" class="an">GARS1</text><text x="163" y="505.7" text-anchor="end" class="an">AUC: 0.909</text><text x="163" y="514.5" text-anchor="end" class="an">CI: 0.872−0.945</text></g>
<g><rect x="201.6" y="384.5" width="134.4" height="133.9" fill="#fff"/><path d="M203 384.5V518.4M201.6 518.4H336M216.3 384.5V518.4M201.6 505.17H336M229.6 384.5V518.4M201.6 491.94H336M242.9 384.5V518.4M201.6 478.71H336M256.2 384.5V518.4M201.6 465.48H336M269.5 384.5V518.4M201.6 452.25H336M282.8 384.5V518.4M201.6 439.02H336M296.1 384.5V518.4M201.6 425.79H336M309.4 384.5V518.4M201.6 412.56H336M322.7 384.5V518.4M201.6 399.33H336M336 384.5V518.4M201.6 386.1H336" stroke="#ebebeb" stroke-width="1" fill="none"/><line x1="203" y1="518.4" x2="336" y2="386.1" stroke="#c2c2c2" stroke-width="1.2"/><polygon points="203,518.4 203,511.05 203.4,503.11 203.8,495.17 204,487.23 205,483.26 206,480.28 208,477.3 209.4,475.32 210,471.35 210.6,467.38 211.4,465.39 212,459.44 212,451.5 212.6,447.52 213.4,444.55 214,441.57 215,438.59 216,436.61 217.4,435.22 218.6,432.64 219.4,429.66 220.6,426.68 222,424.69 224,422.71 226,419.73 227,414.77 229,412.78 231,410.2 233,407.82 235,403.85 237,402.26 240,400.87 243,399.48 246,397.5 250,396.3 254,394.91 258,392.33 261,390.94 265,389.55 268,387.57 281,387.37 284,386.58 309,386.38 336,386.1 336,518.4 203,518.4" fill="#4070b0" fill-opacity="0.14"/><polyline points="203,518.4 203,511.05 203.4,503.11 203.8,495.17 204,487.23 205,483.26 206,480.28 208,477.3 209.4,475.32 210,471.35 210.6,467.38 211.4,465.39 212,459.44 212,451.5 212.6,447.52 213.4,444.55 214,441.57 215,438.59 216,436.61 217.4,435.22 218.6,432.64 219.4,429.66 220.6,426.68 222,424.69 224,422.71 226,419.73 227,414.77 229,412.78 231,410.2 233,407.82 235,403.85 237,402.26 240,400.87 243,399.48 246,397.5 250,396.3 254,394.91 258,392.33 261,390.94 265,389.55 268,387.57 281,387.37 284,386.58 309,386.38 336,386.1" fill="none" stroke="#3465a4" stroke-width="1.2" stroke-linejoin="round"/><rect x="201.6" y="384.5" width="134.4" height="133.9" fill="none" stroke="#404040" stroke-width="1.35"/><path d="M198.3 518.4H201.6M203 518.4V521.6M198.3 491.94H201.6M229.6 518.4V521.6M198.3 465.48H201.6M256.2 518.4V521.6M198.3 439.02H201.6M282.8 518.4V521.6M198.3 412.56H201.6M309.4 518.4V521.6M198.3 386.1H201.6M336 518.4V521.6" stroke="#333333" stroke-width="1"/><text transform="matrix(1 0 0 1.15 195.7 520.95)" text-anchor="end" class="tl">0.0</text><text transform="matrix(1 0 0 1.15 203 529.7)" text-anchor="middle" class="tl">0.0</text><text transform="matrix(1 0 0 1.15 195.7 494.49)" text-anchor="end" class="tl">0.2</text><text transform="matrix(1 0 0 1.15 229.6 529.7)" text-anchor="middle" class="tl">0.2</text><text transform="matrix(1 0 0 1.15 195.7 468.03)" text-anchor="end" class="tl">0.4</text><text transform="matrix(1 0 0 1.15 256.2 529.7)" text-anchor="middle" class="tl">0.4</text><text transform="matrix(1 0 0 1.15 195.7 441.57)" text-anchor="end" class="tl">0.6</text><text transform="matrix(1 0 0 1.15 282.8 529.7)" text-anchor="middle" class="tl">0.6</text><text transform="matrix(1 0 0 1.15 195.7 415.11)" text-anchor="end" class="tl">0.8</text><text transform="matrix(1 0 0 1.15 309.4 529.7)" text-anchor="middle" class="tl">0.8</text><text transform="matrix(1 0 0 1.15 195.7 388.65)" text-anchor="end" class="tl">1.0</text><text transform="matrix(1 0 0 1.15 336 529.7)" text-anchor="middle" class="tl">1.0</text><text x="268.8" y="540.1" text-anchor="middle" class="ax">1−Specificity (FPR)</text><text transform="translate(180.5,451.45) rotate(-90)" text-anchor="middle" class="ay">Sensitivity (TPR)</text><text transform="matrix(1 0 0 1.06 268.8 381)" text-anchor="middle" class="ti">LIHC</text><text x="175.35" y="381.5" class="lt">j</text><text x="333.5" y="496.7" text-anchor="end" class="an">GARS1</text><text x="333.5" y="505.7" text-anchor="end" class="an">AUC: 0.882</text><text x="333.5" y="514.5" text-anchor="end" class="an">CI: 0.848−0.916</text></g>
<g><rect x="372.1" y="383.3" width="134.2" height="133" fill="#fff"/><path d="M373.3 383.3V516.3M372.1 516.3H506.3M386.6 383.3V516.3M372.1 503.1H506.3M399.9 383.3V516.3M372.1 489.9H506.3M413.2 383.3V516.3M372.1 476.7H506.3M426.5 383.3V516.3M372.1 463.5H506.3M439.8 383.3V516.3M372.1 450.3H506.3M453.1 383.3V516.3M372.1 437.1H506.3M466.4 383.3V516.3M372.1 423.9H506.3M479.7 383.3V516.3M372.1 410.7H506.3M493 383.3V516.3M372.1 397.5H506.3M506.3 383.3V516.3M372.1 384.3H506.3" stroke="#ebebeb" stroke-width="1" fill="none"/><line x1="373.3" y1="516.3" x2="506.3" y2="384.3" stroke="#c2c2c2" stroke-width="1.2"/><polygon points="373.3,516.3 373.3,467.38 373.6,459.44 373.99,443.56 374.39,429.66 374.99,428.67 375.38,423.71 375.58,404.85 376.38,402.86 377.57,400.28 378.96,399.49 380.94,398.89 381.94,396.91 382.93,394.92 384.91,393.93 386.9,392.94 387.89,391.55 390.87,390.95 392.85,388.97 393.85,387.58 395.83,385.99 400.79,385.59 401.79,384.3 506.3,384.3 506.3,516.3 373.3,516.3" fill="#4070b0" fill-opacity="0.14"/><polyline points="373.3,516.3 373.3,467.38 373.6,459.44 373.99,443.56 374.39,429.66 374.99,428.67 375.38,423.71 375.58,404.85 376.38,402.86 377.57,400.28 378.96,399.49 380.94,398.89 381.94,396.91 382.93,394.92 384.91,393.93 386.9,392.94 387.89,391.55 390.87,390.95 392.85,388.97 393.85,387.58 395.83,385.99 400.79,385.59 401.79,384.3 506.3,384.3" fill="none" stroke="#3465a4" stroke-width="1.2" stroke-linejoin="round"/><rect x="372.1" y="383.3" width="134.2" height="133" fill="none" stroke="#404040" stroke-width="1.35"/><path d="M368.8 516.3H372.1M373.3 516.3V519.5M368.8 489.9H372.1M399.9 516.3V519.5M368.8 463.5H372.1M426.5 516.3V519.5M368.8 437.1H372.1M453.1 516.3V519.5M368.8 410.7H372.1M479.7 516.3V519.5M368.8 384.3H372.1M506.3 516.3V519.5" stroke="#333333" stroke-width="1"/><text transform="matrix(1 0 0 1.15 366.2 518.85)" text-anchor="end" class="tl">0.0</text><text transform="matrix(1 0 0 1.15 373.3 527.6)" text-anchor="middle" class="tl">0.0</text><text transform="matrix(1 0 0 1.15 366.2 492.45)" text-anchor="end" class="tl">0.2</text><text transform="matrix(1 0 0 1.15 399.9 527.6)" text-anchor="middle" class="tl">0.2</text><text transform="matrix(1 0 0 1.15 366.2 466.05)" text-anchor="end" class="tl">0.4</text><text transform="matrix(1 0 0 1.15 426.5 527.6)" text-anchor="middle" class="tl">0.4</text><text transform="matrix(1 0 0 1.15 366.2 439.65)" text-anchor="end" class="tl">0.6</text><text transform="matrix(1 0 0 1.15 453.1 527.6)" text-anchor="middle" class="tl">0.6</text><text transform="matrix(1 0 0 1.15 366.2 413.25)" text-anchor="end" class="tl">0.8</text><text transform="matrix(1 0 0 1.15 479.7 527.6)" text-anchor="middle" class="tl">0.8</text><text transform="matrix(1 0 0 1.15 366.2 386.85)" text-anchor="end" class="tl">1.0</text><text transform="matrix(1 0 0 1.15 506.3 527.6)" text-anchor="middle" class="tl">1.0</text><text x="439.2" y="538" text-anchor="middle" class="ax">1−Specificity (FPR)</text><text transform="translate(351,449.8) rotate(-90)" text-anchor="middle" class="ay">Sensitivity (TPR)</text><text transform="matrix(1 0 0 1.06 439.2 379.8)" text-anchor="middle" class="ti">READ</text><text x="344.6" y="381.6" class="lt">k</text><text x="503.8" y="494.6" text-anchor="end" class="an">GARS1</text><text x="503.8" y="503.6" text-anchor="end" class="an">AUC: 0.980</text><text x="503.8" y="512.4" text-anchor="end" class="an">CI: 0.969−0.991</text></g>
<g><rect x="542.6" y="384.5" width="133.8" height="133.9" fill="#fff"/><path d="M543.4 384.5V518.4M542.6 518.4H676.4M556.7 384.5V518.4M542.6 505.17H676.4M570 384.5V518.4M542.6 491.94H676.4M583.3 384.5V518.4M542.6 478.71H676.4M596.6 384.5V518.4M542.6 465.48H676.4M609.9 384.5V518.4M542.6 452.25H676.4M623.2 384.5V518.4M542.6 439.02H676.4M636.5 384.5V518.4M542.6 425.79H676.4M649.8 384.5V518.4M542.6 412.56H676.4M663.1 384.5V518.4M542.6 399.33H676.4M676.4 384.5V518.4M542.6 386.1H676.4" stroke="#ebebeb" stroke-width="1" fill="none"/><line x1="543.4" y1="518.4" x2="676.4" y2="386.1" stroke="#c2c2c2" stroke-width="1.2"/><polygon points="543.4,518.4 543.6,499.14 544,483.26 544.39,477.3 544.99,467.38 545.58,453.48 545.98,447.52 546.38,442.56 546.97,439.58 547.97,437.6 548.96,434.62 549.95,431.64 550.94,427.67 551.94,425.69 552.93,423.7 553.92,421.72 554.32,417.75 554.71,411.79 555.51,407.82 556.3,405.83 557.89,401.86 559.88,399.48 561.86,398.89 563.85,396.9 565.83,393.92 567.82,391.54 570.79,390.35 573.77,389.95 578.73,389.55 581.71,388.36 585.68,387.17 589.65,386.77 595.61,386.58 629.35,386.38 676.4,386.1 676.4,518.4 543.4,518.4" fill="#4070b0" fill-opacity="0.14"/><polyline points="543.4,518.4 543.6,499.14 544,483.26 544.39,477.3 544.99,467.38 545.58,453.48 545.98,447.52 546.38,442.56 546.97,439.58 547.97,437.6 548.96,434.62 549.95,431.64 550.94,427.67 551.94,425.69 552.93,423.7 553.92,421.72 554.32,417.75 554.71,411.79 555.51,407.82 556.3,405.83 557.89,401.86 559.88,399.48 561.86,398.89 563.85,396.9 565.83,393.92 567.82,391.54 570.79,390.35 573.77,389.95 578.73,389.55 581.71,388.36 585.68,387.17 589.65,386.77 595.61,386.58 629.35,386.38 676.4,386.1" fill="none" stroke="#3465a4" stroke-width="1.2" stroke-linejoin="round"/><rect x="542.6" y="384.5" width="133.8" height="133.9" fill="none" stroke="#404040" stroke-width="1.35"/><path d="M539.3 518.4H542.6M543.4 518.4V521.6M539.3 491.94H542.6M570 518.4V521.6M539.3 465.48H542.6M596.6 518.4V521.6M539.3 439.02H542.6M623.2 518.4V521.6M539.3 412.56H542.6M649.8 518.4V521.6M539.3 386.1H542.6M676.4 518.4V521.6" stroke="#333333" stroke-width="1"/><text transform="matrix(1 0 0 1.15 536.7 520.95)" text-anchor="end" class="tl">0.0</text><text transform="matrix(1 0 0 1.15 543.4 529.7)" text-anchor="middle" class="tl">0.0</text><text transform="matrix(1 0 0 1.15 536.7 494.49)" text-anchor="end" class="tl">0.2</text><text transform="matrix(1 0 0 1.15 570 529.7)" text-anchor="middle" class="tl">0.2</text><text transform="matrix(1 0 0 1.15 536.7 468.03)" text-anchor="end" class="tl">0.4</text><text transform="matrix(1 0 0 1.15 596.6 529.7)" text-anchor="middle" class="tl">0.4</text><text transform="matrix(1 0 0 1.15 536.7 441.57)" text-anchor="end" class="tl">0.6</text><text transform="matrix(1 0 0 1.15 623.2 529.7)" text-anchor="middle" class="tl">0.6</text><text transform="matrix(1 0 0 1.15 536.7 415.11)" text-anchor="end" class="tl">0.8</text><text transform="matrix(1 0 0 1.15 649.8 529.7)" text-anchor="middle" class="tl">0.8</text><text transform="matrix(1 0 0 1.15 536.7 388.65)" text-anchor="end" class="tl">1.0</text><text transform="matrix(1 0 0 1.15 676.4 529.7)" text-anchor="middle" class="tl">1.0</text><text x="609.5" y="540.1" text-anchor="middle" class="ax">1−Specificity (FPR)</text><text transform="translate(521.5,451.45) rotate(-90)" text-anchor="middle" class="ay">Sensitivity (TPR)</text><text transform="matrix(1 0 0 1.06 609.5 381)" text-anchor="middle" class="ti">STAD</text><text x="515" y="381.7" class="lt">l</text><text x="673.9" y="496.7" text-anchor="end" class="an">GARS1</text><text x="673.9" y="505.7" text-anchor="end" class="an">AUC: 0.948</text><text x="673.9" y="514.5" text-anchor="end" class="an">CI: 0.928−0.967</text></g>
<g><rect x="31.5" y="568.4" width="134.1" height="133" fill="#fff"/><path d="M32.75 568.4V701.4M31.5 701.4H165.6M46.02 568.4V701.4M31.5 688.21H165.6M59.3 568.4V701.4M31.5 675.02H165.6M72.57 568.4V701.4M31.5 661.83H165.6M85.85 568.4V701.4M31.5 648.64H165.6M99.12 568.4V701.4M31.5 635.45H165.6M112.4 568.4V701.4M31.5 622.26H165.6M125.67 568.4V701.4M31.5 609.07H165.6M138.95 568.4V701.4M31.5 595.88H165.6M152.23 568.4V701.4M31.5 582.69H165.6M165.5 568.4V701.4M31.5 569.5H165.6" stroke="#ebebeb" stroke-width="1" fill="none"/><line x1="32.75" y1="701.4" x2="165.5" y2="569.5" stroke="#c2c2c2" stroke-width="1.2"/><polygon points="32.75,701.4 32.75,579.9 33.54,577.92 34.73,576.53 37.12,575.93 51.01,575.93 51.4,575.34 59.93,575.34 60.93,573.55 62.91,572.95 69.86,572.56 71.84,571.37 86.72,570.97 87.72,570.17 100.61,570.17 101.61,569.5 165.5,569.5 165.5,701.4 32.75,701.4" fill="#4070b0" fill-opacity="0.14"/><polyline points="32.75,701.4 32.75,579.9 33.54,577.92 34.73,576.53 37.12,575.93 51.01,575.93 51.4,575.34 59.93,575.34 60.93,573.55 62.91,572.95 69.86,572.56 71.84,571.37 86.72,570.97 87.72,570.17 100.61,570.17 101.61,569.5 165.5,569.5" fill="none" stroke="#3465a4" stroke-width="1.2" stroke-linejoin="round"/><rect x="31.5" y="568.4" width="134.1" height="133" fill="none" stroke="#404040" stroke-width="1.35"/><path d="M28.2 701.4H31.5M32.75 701.4V704.6M28.2 675.02H31.5M59.3 701.4V704.6M28.2 648.64H31.5M85.85 701.4V704.6M28.2 622.26H31.5M112.4 701.4V704.6M28.2 595.88H31.5M138.95 701.4V704.6M28.2 569.5H31.5M165.5 701.4V704.6" stroke="#333333" stroke-width="1"/><text transform="matrix(1 0 0 1.15 25.6 703.95)" text-anchor="end" class="tl">0.0</text><text transform="matrix(1 0 0 1.15 32.75 712.7)" text-anchor="middle" class="tl">0.0</text><text transform="matrix(1 0 0 1.15 25.6 677.57)" text-anchor="end" class="tl">0.2</text><text transform="matrix(1 0 0 1.15 59.3 712.7)" text-anchor="middle" class="tl">0.2</text><text transform="matrix(1 0 0 1.15 25.6 651.19)" text-anchor="end" class="tl">0.4</text><text transform="matrix(1 0 0 1.15 85.85 712.7)" text-anchor="middle" class="tl">0.4</text><text transform="matrix(1 0 0 1.15 25.6 624.81)" text-anchor="end" class="tl">0.6</text><text transform="matrix(1 0 0 1.15 112.4 712.7)" text-anchor="middle" class="tl">0.6</text><text transform="matrix(1 0 0 1.15 25.6 598.43)" text-anchor="end" class="tl">0.8</text><text transform="matrix(1 0 0 1.15 138.95 712.7)" text-anchor="middle" class="tl">0.8</text><text transform="matrix(1 0 0 1.15 25.6 572.05)" text-anchor="end" class="tl">1.0</text><text transform="matrix(1 0 0 1.15 165.5 712.7)" text-anchor="middle" class="tl">1.0</text><text x="98.55" y="723.1" text-anchor="middle" class="ax">1−Specificity (FPR)</text><text transform="translate(10.4,634.9) rotate(-90)" text-anchor="middle" class="ay">Sensitivity (TPR)</text><text transform="matrix(1 0 0 1.06 98.55 564.9)" text-anchor="middle" class="ti">TGCT</text><text x="5" y="565.5" class="lt">m</text><text x="163" y="679.7" text-anchor="end" class="an">GARS1</text><text x="163" y="688.7" text-anchor="end" class="an">AUC: 0.985</text><text x="163" y="697.5" text-anchor="end" class="an">CI: 0.974−0.996</text></g>
<g><rect x="201.6" y="568.4" width="134.4" height="133" fill="#fff"/><path d="M203 568.4V701.4M201.6 701.4H336M216.3 568.4V701.4M201.6 688.21H336M229.6 568.4V701.4M201.6 675.02H336M242.9 568.4V701.4M201.6 661.83H336M256.2 568.4V701.4M201.6 648.64H336M269.5 568.4V701.4M201.6 635.45H336M282.8 568.4V701.4M201.6 622.26H336M296.1 568.4V701.4M201.6 609.07H336M309.4 568.4V701.4M201.6 595.88H336M322.7 568.4V701.4M201.6 582.69H336M336 568.4V701.4M201.6 569.5H336" stroke="#ebebeb" stroke-width="1" fill="none"/><line x1="203" y1="701.4" x2="336" y2="569.5" stroke="#c2c2c2" stroke-width="1.2"/><polygon points="203,701.4 203,688.1 204,688.1 204,664.28 205,663.28 205.4,644.42 206.2,643.43 206.6,618.62 207.4,616.63 208.6,615.64 210.6,614.64 210.6,605.71 212,604.72 212,599.76 214,598.76 214.6,596.78 216,595.78 217,593.8 219,592.41 221,591.22 223,590.42 225,589.23 227,588.44 228.6,586.85 229.4,583.87 230,581.89 232,580.9 234,579.9 236,578.91 250,578.51 251,576.92 257,576.53 261,575.93 267,575.34 269,574.94 283,574.94 286,573.95 299,573.55 301,572.56 310,572.56 311,571.96 326,571.96 327,570.57 335,570.57 336,569.5 336,701.4 203,701.4" fill="#4070b0" fill-opacity="0.14"/><polyline points="203,701.4 203,688.1 204,688.1 204,664.28 205,663.28 205.4,644.42 206.2,643.43 206.6,618.62 207.4,616.63 208.6,615.64 210.6,614.64 210.6,605.71 212,604.72 212,599.76 214,598.76 214.6,596.78 216,595.78 217,593.8 219,592.41 221,591.22 223,590.42 225,589.23 227,588.44 228.6,586.85 229.4,583.87 230,581.89 232,580.9 234,579.9 236,578.91 250,578.51 251,576.92 257,576.53 261,575.93 267,575.34 269,574.94 283,574.94 286,573.95 299,573.55 301,572.56 310,572.56 311,571.96 326,571.96 327,570.57 335,570.57 336,569.5" fill="none" stroke="#3465a4" stroke-width="1.2" stroke-linejoin="round"/><rect x="201.6" y="568.4" width="134.4" height="133" fill="none" stroke="#404040" stroke-width="1.35"/><path d="M198.3 701.4H201.6M203 701.4V704.6M198.3 675.02H201.6M229.6 701.4V704.6M198.3 648.64H201.6M256.2 701.4V704.6M198.3 622.26H201.6M282.8 701.4V704.6M198.3 595.88H201.6M309.4 701.4V704.6M198.3 569.5H201.6M336 701.4V704.6" stroke="#333333" stroke-width="1"/><text transform="matrix(1 0 0 1.15 195.7 703.95)" text-anchor="end" class="tl">0.0</text><text transform="matrix(1 0 0 1.15 203 712.7)" text-anchor="middle" class="tl">0.0</text><text transform="matrix(1 0 0 1.15 195.7 677.57)" text-anchor="end" class="tl">0.2</text><text transform="matrix(1 0 0 1.15 229.6 712.7)" text-anchor="middle" class="tl">0.2</text><text transform="matrix(1 0 0 1.15 195.7 651.19)" text-anchor="end" class="tl">0.4</text><text transform="matrix(1 0 0 1.15 256.2 712.7)" text-anchor="middle" class="tl">0.4</text><text transform="matrix(1 0 0 1.15 195.7 624.81)" text-anchor="end" class="tl">0.6</text><text transform="matrix(1 0 0 1.15 282.8 712.7)" text-anchor="middle" class="tl">0.6</text><text transform="matrix(1 0 0 1.15 195.7 598.43)" text-anchor="end" class="tl">0.8</text><text transform="matrix(1 0 0 1.15 309.4 712.7)" text-anchor="middle" class="tl">0.8</text><text transform="matrix(1 0 0 1.15 195.7 572.05)" text-anchor="end" class="tl">1.0</text><text transform="matrix(1 0 0 1.15 336 712.7)" text-anchor="middle" class="tl">1.0</text><text x="268.8" y="723.1" text-anchor="middle" class="ax">1−Specificity (FPR)</text><text transform="translate(180.5,634.9) rotate(-90)" text-anchor="middle" class="ay">Sensitivity (TPR)</text><text transform="matrix(1 0 0 1.06 268.8 564.9)" text-anchor="middle" class="ti">UCEC</text><text x="175.35" y="565.4" class="lt">n</text><text x="333.5" y="679.7" text-anchor="end" class="an">GARS1</text><text x="333.5" y="688.7" text-anchor="end" class="an">AUC: 0.913</text><text x="333.5" y="697.5" text-anchor="end" class="an">CI: 0.876−0.949</text></g>
<g><rect x="372.1" y="568.4" width="134.2" height="133" fill="#fff"/><path d="M373.3 568.4V701.4M372.1 701.4H506.3M386.6 568.4V701.4M372.1 688.21H506.3M399.9 568.4V701.4M372.1 675.02H506.3M413.2 568.4V701.4M372.1 661.83H506.3M426.5 568.4V701.4M372.1 648.64H506.3M439.8 568.4V701.4M372.1 635.45H506.3M453.1 568.4V701.4M372.1 622.26H506.3M466.4 568.4V701.4M372.1 609.07H506.3M479.7 568.4V701.4M372.1 595.88H506.3M493 568.4V701.4M372.1 582.69H506.3M506.3 568.4V701.4M372.1 569.5H506.3" stroke="#ebebeb" stroke-width="1" fill="none"/><line x1="373.3" y1="701.4" x2="506.3" y2="569.5" stroke="#c2c2c2" stroke-width="1.2"/><polygon points="373.3,701.4 373.3,685.12 374.39,685.12 374.39,660.31 375.58,659.31 375.98,630.53 376.97,629.53 377.96,629.53 378.36,611.67 380.94,611.67 381.54,599.76 384.91,599.76 385.51,595.19 387.49,595.19 387.89,590.82 390.27,590.42 390.87,587.84 392.85,587.84 393.45,583.87 394.84,582.88 395.43,578.91 396.82,577.92 397.42,576.33 412.7,576.33 413.1,574.94 420.64,574.94 421.24,571.96 443.47,571.96 443.87,569.78 506.3,569.5 506.3,701.4 373.3,701.4" fill="#4070b0" fill-opacity="0.14"/><polyline points="373.3,701.4 373.3,685.12 374.39,685.12 374.39,660.31 375.58,659.31 375.98,630.53 376.97,629.53 377.96,629.53 378.36,611.67 380.94,611.67 381.54,599.76 384.91,599.76 385.51,595.19 387.49,595.19 387.89,590.82 390.27,590.42 390.87,587.84 392.85,587.84 393.45,583.87 394.84,582.88 395.43,578.91 396.82,577.92 397.42,576.33 412.7,576.33 413.1,574.94 420.64,574.94 421.24,571.96 443.47,571.96 443.87,569.78 506.3,569.5" fill="none" stroke="#3465a4" stroke-width="1.2" stroke-linejoin="round"/><rect x="372.1" y="568.4" width="134.2" height="133" fill="none" stroke="#404040" stroke-width="1.35"/><path d="M368.8 701.4H372.1M373.3 701.4V704.6M368.8 675.02H372.1M399.9 701.4V704.6M368.8 648.64H372.1M426.5 701.4V704.6M368.8 622.26H372.1M453.1 701.4V704.6M368.8 595.88H372.1M479.7 701.4V704.6M368.8 569.5H372.1M506.3 701.4V704.6" stroke="#333333" stroke-width="1"/><text transform="matrix(1 0 0 1.15 366.2 703.95)" text-anchor="end" class="tl">0.0</text><text transform="matrix(1 0 0 1.15 373.3 712.7)" text-anchor="middle" class="tl">0.0</text><text transform="matrix(1 0 0 1.15 366.2 677.57)" text-anchor="end" class="tl">0.2</text><text transform="matrix(1 0 0 1.15 399.9 712.7)" text-anchor="middle" class="tl">0.2</text><text transform="matrix(1 0 0 1.15 366.2 651.19)" text-anchor="end" class="tl">0.4</text><text transform="matrix(1 0 0 1.15 426.5 712.7)" text-anchor="middle" class="tl">0.4</text><text transform="matrix(1 0 0 1.15 366.2 624.81)" text-anchor="end" class="tl">0.6</text><text transform="matrix(1 0 0 1.15 453.1 712.7)" text-anchor="middle" class="tl">0.6</text><text transform="matrix(1 0 0 1.15 366.2 598.43)" text-anchor="end" class="tl">0.8</text><text transform="matrix(1 0 0 1.15 479.7 712.7)" text-anchor="middle" class="tl">0.8</text><text transform="matrix(1 0 0 1.15 366.2 572.05)" text-anchor="end" class="tl">1.0</text><text transform="matrix(1 0 0 1.15 506.3 712.7)" text-anchor="middle" class="tl">1.0</text><text x="439.2" y="723.1" text-anchor="middle" class="ax">1−Specificity (FPR)</text><text transform="translate(351,634.9) rotate(-90)" text-anchor="middle" class="ay">Sensitivity (TPR)</text><text transform="matrix(1 0 0 1.06 439.2 564.9)" text-anchor="middle" class="ti">UCS</text><text x="344.6" y="565.3" class="lt">o</text><text x="503.8" y="679.7" text-anchor="end" class="an">GARS1</text><text x="503.8" y="688.7" text-anchor="end" class="an">AUC: 0.936</text><text x="503.8" y="697.5" text-anchor="end" class="an">CI: 0.896−0.977</text></g>
</svg>
</body></html>
